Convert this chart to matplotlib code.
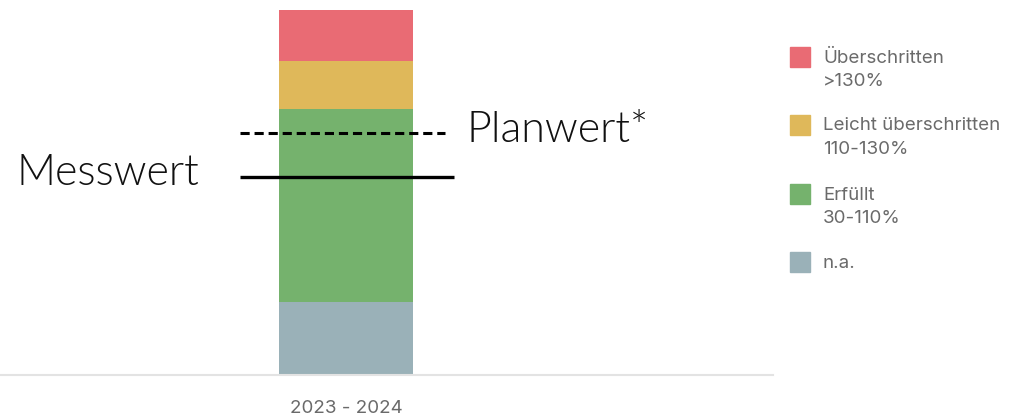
import matplotlib.pyplot as plt
from matplotlib.patches import Rectangle

# data
period = ["2023 - 2024"]
seg_names = ["n.a.", "Erfüllt", "Leicht überschritten", "Überschritten"]
seg_ranges = ["", "30-110%", "110-130%", ">130%"]
seg_bottom = [0, 30, 110, 130]
seg_height = [30, 80, 20, 21]
seg_colors = ["#9AB1B8", "#75B26D", "#DFB85A", "#E96B74"]
planwert = 100
messwert = 82

big_font = "Lato"
small_font = "Inter"

fig = plt.figure(figsize=(10.24, 4.17), dpi=100)
ax = fig.add_axes([0, 42 / 417, 773 / 1024, 365 / 417])

for b, h, c in zip(seg_bottom, seg_height, seg_colors):
    ax.bar(period, [h], bottom=[b], width=0.6, color=c)

ax.set_xlim(-1.55, 1.91)
ax.set_ylim(0, sum(seg_height))

ax.hlines(planwert, -0.475, 0.444, colors="black", linestyles=(0, (3, 1.6)), linewidth=2.2)
ax.hlines(messwert, -0.475, 0.48, colors="black", linewidth=2.4)

ax.text(-0.66, messwert - 3.5, "Messwert", ha="right", va="baseline",
        fontsize=31, family=big_font, fontweight=300, color="#111111")
ax.text(0.54, planwert - 3.5, "Planwert*", ha="left", va="baseline",
        fontsize=31, family=big_font, fontweight=300, color="#111111")

for s in ["top", "right", "left"]:
    ax.spines[s].set_visible(False)
ax.spines["bottom"].set_color("#E3E3E3")
ax.spines["bottom"].set_linewidth(1.5)
ax.set_yticks([])
ax.tick_params(axis="x", length=0, pad=18, labelsize=13.5, labelcolor="#6A6A6A")
for t in ax.get_xticklabels():
    t.set_family(small_font)

# legend, top to bottom
W, H = 1024, 417
ys = [57, 125, 194, 262]
for i, y in enumerate(ys):
    k = len(seg_names) - 1 - i
    fig.add_artist(Rectangle((790 / W, 1 - (y + 10) / H), 20 / W, 20 / H,
                             transform=fig.transFigure, color=seg_colors[k]))
    fig.text(823 / W, 1 - (y + 1) / H, seg_names[k], va="center", ha="left",
             fontsize=13.5, family=small_font, color="#6A6A6A")
    if seg_ranges[k]:
        fig.text(823 / W, 1 - (y + 25) / H, seg_ranges[k], va="center", ha="left",
                 fontsize=13.5, family=small_font, color="#6A6A6A")

fig.savefig("out.png", dpi=100)
